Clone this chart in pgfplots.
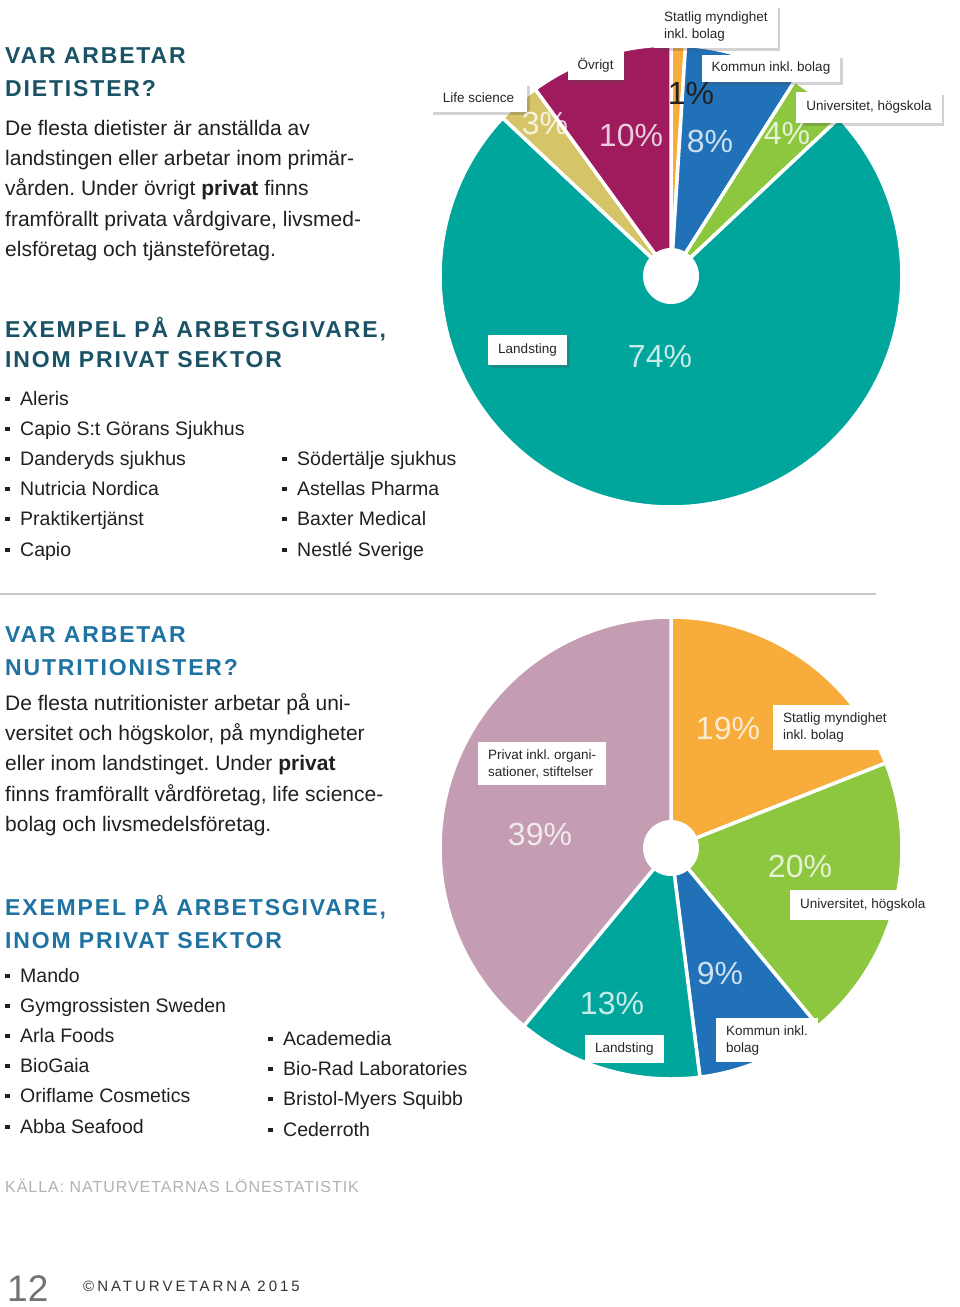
\documentclass[border=0pt]{standalone}
\usepackage{fontspec}
\setmainfont{Liberation Sans}
\newfontfamily\headfont[LetterSpace=8]{Liberation Sans}
\newfontfamily\srcfont[LetterSpace=6]{Liberation Sans}
\newfontfamily\copyfont[LetterSpace=20]{Liberation Sans}
\usepackage{pgfplots}
\pgfplotsset{compat=1.18}
\usetikzlibrary{shadows}
\frenchspacing
\definecolor{cteal}{RGB}{0,166,156}
\definecolor{cmag}{RGB}{160,27,94}
\definecolor{cyel}{RGB}{214,196,104}
\definecolor{corange}{RGB}{247,172,60}
\definecolor{cblue}{RGB}{32,113,183}
\definecolor{cgreen}{RGB}{141,198,63}
\definecolor{cmauve}{RGB}{196,157,178}
\definecolor{hdark}{RGB}{26,82,102}
\definecolor{hblue}{RGB}{30,115,162}
\definecolor{txt}{RGB}{35,31,32}
\tikzset{
  lbl/.style={fill=white, inner xsep=10pt, inner ysep=0pt, font=\fontsize{13.5}{17}\selectfont, text=black!85, align=left},
  shd/.style={drop shadow={shadow xshift=2.5pt, shadow yshift=-2.5pt, opacity=0.25, fill=black!70}},
  pct/.style={font=\fontsize{32}{32}\selectfont, text=white, text opacity=0.78, inner sep=0pt},
  body/.style={anchor=base west, inner sep=0pt, font=\fontsize{21}{25}\selectfont, text=txt},
  item/.style={anchor=base west, inner sep=0pt, font=\fontsize{19.5}{24}\selectfont, text=txt},
  head/.style={anchor=base west, inner sep=0pt, font=\fontsize{23}{27}\headfont\bfseries},
}
\newcommand\li[3]{%
  \node[item] at (#1,#2) {\rule[4pt]{4.5pt}{4.5pt}};
  \node[item] at (#1+15,#2) {#3};}
\pgfplotsset{pie/.style={at={#1}, anchor=center, width=500pt, height=500pt, scale only axis,
  xmin=-250, xmax=250, ymin=-250, ymax=250, hide axis, clip=false},
  sl/.style={draw=white, line width=3.5pt, line join=round}}
\begin{document}
\begin{tikzpicture}[x=1pt,y=1pt]
\useasboundingbox[fill=white] (0,0) rectangle (960,-1307);

% ---------- Pie 1: dietister (percent, clockwise from top) ----------
% Statlig 1, Kommun 8, Universitet 4, Landsting 74, Life science 3, Ovrigt 10
\begin{axis}[pie={(671,-276)}]
\addplot[sl, fill=corange, domain=86.4:90, samples=10, variable=\t] ({231*cos(\t)},{231*sin(\t)}) -- (axis cs:0,0) -- cycle;
\addplot[sl, fill=cblue, domain=57.6:86.4, samples=30, variable=\t] ({231*cos(\t)},{231*sin(\t)}) -- (axis cs:0,0) -- cycle;
\addplot[sl, fill=cgreen, domain=43.2:57.6, samples=20, variable=\t] ({231*cos(\t)},{231*sin(\t)}) -- (axis cs:0,0) -- cycle;
\addplot[sl, fill=cteal, domain=-223.2:43.2, samples=150, variable=\t] ({231*cos(\t)},{231*sin(\t)}) -- (axis cs:0,0) -- cycle;
\addplot[sl, fill=cyel, domain=-234:-223.2, samples=15, variable=\t] ({231*cos(\t)},{231*sin(\t)}) -- (axis cs:0,0) -- cycle;
\addplot[sl, fill=cmag, domain=-270:-234, samples=30, variable=\t] ({231*cos(\t)},{231*sin(\t)}) -- (axis cs:0,0) -- cycle;
\addplot[fill=white, draw=none, domain=0:360, samples=60, variable=\t] ({28*cos(\t)},{28*sin(\t)}) -- cycle;
\end{axis}

% ---------- Pie 2: nutritionister ----------
% Statlig 19, Universitet 20, Kommun 9, Landsting 13, Privat 39
\begin{axis}[pie={(671,-848)}]
\addplot[sl, fill=corange, domain=21.6:90, samples=60, variable=\t] ({231*cos(\t)},{231*sin(\t)}) -- (axis cs:0,0) -- cycle;
\addplot[sl, fill=cgreen, domain=-50.4:21.6, samples=60, variable=\t] ({231*cos(\t)},{231*sin(\t)}) -- (axis cs:0,0) -- cycle;
\addplot[sl, fill=cblue, domain=-82.8:-50.4, samples=30, variable=\t] ({231*cos(\t)},{231*sin(\t)}) -- (axis cs:0,0) -- cycle;
\addplot[sl, fill=cteal, domain=-129.6:-82.8, samples=40, variable=\t] ({231*cos(\t)},{231*sin(\t)}) -- (axis cs:0,0) -- cycle;
\addplot[sl, fill=cmauve, domain=-270:-129.6, samples=100, variable=\t] ({231*cos(\t)},{231*sin(\t)}) -- (axis cs:0,0) -- cycle;
\addplot[fill=white, draw=none, domain=0:360, samples=60, variable=\t] ({28*cos(\t)},{28*sin(\t)}) -- cycle;
\end{axis}

\begin{scope}[yscale=-1]
% ---------- pie 1 labels ----------
\node[lbl, shd, anchor=north west, minimum height=43pt] at (654,5) {Statlig myndighet\\inkl. bolag};
\node[lbl, shd, minimum width=55pt, minimum height=30pt] at (595.5,65) {Övrigt};
\node[lbl, shd, minimum width=97pt, minimum height=29pt] at (478.5,97.5) {Life science};
\node[lbl, shd, minimum width=132pt, minimum height=27pt] at (771,68.5) {Kommun inkl. bolag};
\node[lbl, shd, minimum width=142pt, minimum height=31pt] at (869,107.5) {Universitet, högskola};
\node[lbl, shd, minimum width=79pt, minimum height=30pt] at (527.5,350) {Landsting};

\node[pct] at (545,123) {3\%};
\node[pct] at (631,135) {10\%};
\node[pct, text=txt, text opacity=1] at (691,93) {1\%};
\node[pct] at (710,141) {8\%};
\node[pct] at (787,133) {4\%};
\node[pct] at (660,356) {74\%};

% ---------- pie 2 labels ----------
\node[lbl, anchor=north west, minimum height=45pt] at (773,705) {Statlig myndighet\\inkl. bolag};
\node[lbl, anchor=north west, minimum height=43pt] at (478,742) {Privat inkl. organi-\\sationer, stiftelser};
\node[lbl, anchor=north west, minimum width=142pt, minimum height=30pt] at (790,890) {Universitet, högskola};
\node[lbl, anchor=north west, minimum height=44pt] at (716,1018) {Kommun inkl.\\bolag};
\node[lbl, anchor=north west, minimum width=77pt, minimum height=28pt] at (585,1035) {Landsting};

\node[pct] at (728,728) {19\%};
\node[pct] at (540,834) {39\%};
\node[pct] at (800,866) {20\%};
\node[pct] at (720,973) {9\%};
\node[pct] at (612,1003) {13\%};

% ---------- section 1 text ----------
\node[head, text=hdark] at (5,63) {VAR ARBETAR};
\node[head, text=hdark] at (5,96) {DIETISTER?};
\node[body] at (5,135) {De flesta dietister är anställda av};
\node[body] at (5,165) {landstingen eller arbetar inom primär-};
\node[body] at (5,195) {vården. Under övrigt \textbf{privat} finns};
\node[body] at (5,226) {framförallt privata vårdgivare, livsmed-};
\node[body] at (5,256) {elsföretag och tjänsteföretag.};
\node[head, text=hdark] at (5,337) {EXEMPEL PÅ ARBETSGIVARE,};
\node[head, text=hdark] at (5,367) {INOM PRIVAT SEKTOR};
\li{5}{405}{Aleris}
\li{5}{435}{Capio S:t Görans Sjukhus}
\li{5}{465}{Danderyds sjukhus}
\li{5}{495}{Nutricia Nordica}
\li{5}{525}{Praktikertjänst}
\li{5}{556}{Capio}
\li{282}{465}{Södertälje sjukhus}
\li{282}{495}{Astellas Pharma}
\li{282}{525}{Baxter Medical}
\li{282}{556}{Nestlé Sverige}

\draw[black!22, line width=1.3pt] (0,594) -- (876,594);

% ---------- section 2 text ----------
\node[head, text=hblue] at (5,642) {VAR ARBETAR};
\node[head, text=hblue] at (5,675) {NUTRITIONISTER?};
\node[body] at (5,710) {De flesta nutritionister arbetar på uni-};
\node[body] at (5,740) {versitet och högskolor, på myndigheter};
\node[body] at (5,770) {eller inom landstinget. Under \textbf{privat}};
\node[body] at (5,801) {finns framförallt vårdföretag, life science-};
\node[body] at (5,831) {bolag och livsmedelsföretag.};
\node[head, text=hblue] at (5,915) {EXEMPEL PÅ ARBETSGIVARE,};
\node[head, text=hblue] at (5,948) {INOM PRIVAT SEKTOR};
\li{5}{982}{Mando}
\li{5}{1012}{Gymgrossisten Sweden}
\li{5}{1042}{Arla Foods}
\li{5}{1072}{BioGaia}
\li{5}{1102}{Oriflame Cosmetics}
\li{5}{1133}{Abba Seafood}
\li{268}{1045}{Academedia}
\li{268}{1075}{Bio-Rad Laboratories}
\li{268}{1105}{Bristol-Myers Squibb}
\li{268}{1136}{Cederroth}

\node[anchor=base west, inner sep=0pt, font=\fontsize{16}{18}\srcfont, text=black!30] at (5,1192) {KÄLLA: NATURVETARNAS LÖNESTATISTIK};
\node[anchor=base west, inner sep=0pt, font=\fontsize{37}{40}\selectfont, text=black!55] at (7,1301) {12};
\node[anchor=base west, inner sep=0pt, font=\fontsize{15}{18}\copyfont, text=black!80] at (83,1291) {©NATURVETARNA 2015};
\end{scope}
\end{tikzpicture}
\end{document}
